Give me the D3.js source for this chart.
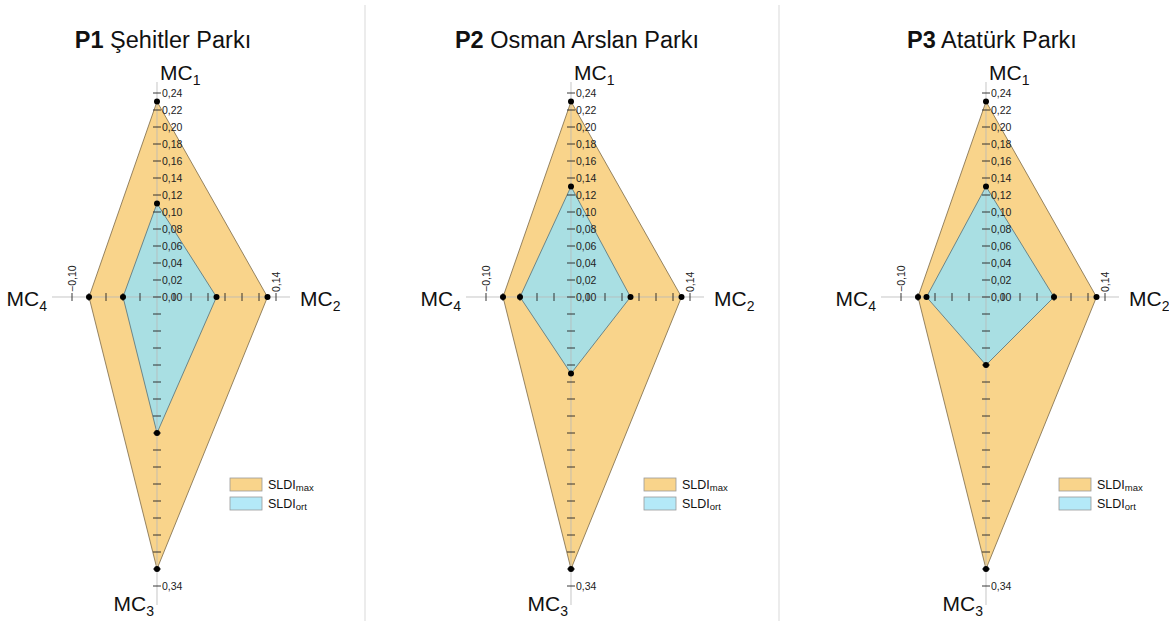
<!DOCTYPE html>
<html>
<head>
<meta charset="utf-8">
<script src="https://cdn.jsdelivr.net/npm/d3@7"></script>
<style>
  body { margin: 0; background: #fff; }
  svg { font-family: "Liberation Sans", Arial, sans-serif; }
</style>
</head>
<body>
<svg id="chart" width="1169" height="621"></svg>
<script>
const parkCodes = ['P1', 'P2', 'P3'];
const parkNames = ['Şehitler Parkı', 'Osman Arslan Parkı', 'Atatürk Parkı'];
const criteria = ['1', '2', '3', '4'];
// values per criterion MC1..MC4
const sldiMax = [
  [0.23, 0.13, 0.32, 0.08],
  [0.23, 0.13, 0.32, 0.08],
  [0.23, 0.13, 0.32, 0.08]
];
const sldiOrt = [
  [0.11, 0.07, 0.16, 0.04],
  [0.13, 0.07, 0.09, 0.06],
  [0.13, 0.08, 0.08, 0.07]
];
const upTicks = [0, 0.02, 0.04, 0.06, 0.08, 0.10, 0.12, 0.14, 0.16, 0.18, 0.20, 0.22, 0.24];
const downTicks = [0.02, 0.04, 0.06, 0.08, 0.10, 0.12, 0.14, 0.16, 0.18, 0.20, 0.22, 0.24, 0.26, 0.28, 0.30, 0.32, 0.34];
const rightTicks = [0.02, 0.04, 0.06, 0.08, 0.10, 0.12, 0.14];
const leftTicks = [0.02, 0.04, 0.06, 0.08, 0.10];
const endLabels = { down: 0.34, right: 0.14, left: 0.10 };
const legendNames = [['SLDI', 'max'], ['SLDI', 'ort']];

const centersX = [157, 571, 986];
const cy = 297;
const maxColor = '#f9d48b';
const ortColor = '#a9dfe3';

const svg = d3.select('#chart');
const r = d3.scaleLinear().domain([0, 0.34]).range([0, 289]);
const fmt = v => d3.format('.2f')(v).replace('.', ',');

// directions: MC1 up, MC2 right, MC3 down, MC4 left
const dirs = [[0, -1], [1, 0], [0, 1], [-1, 0]];

// separators
[365, 779].forEach(x => {
  svg.append('line')
    .attr('x1', x).attr('x2', x).attr('y1', 5).attr('y2', 621)
    .attr('stroke', '#d9d9d9').attr('stroke-width', 1);
});

parkCodes.forEach((code, p) => {
  const cx = centersX[p];
  const g = svg.append('g').attr('transform', 'translate(' + cx + ',' + cy + ')');

  const pts = vals => vals.map((v, i) => [dirs[i][0] * r(v), dirs[i][1] * r(v)]);
  const line = d3.line().curve(d3.curveLinearClosed);

  g.append('path')
    .attr('d', line(pts(sldiMax[p])))
    .attr('fill', maxColor)
    .attr('stroke', '#7a6846')
    .attr('stroke-width', 0.8);

  g.append('path')
    .attr('d', line(pts(sldiOrt[p])))
    .attr('fill', ortColor)
    .attr('stroke', '#53707a')
    .attr('stroke-width', 0.8);

  // axes
  g.append('line').attr('x1', 0).attr('x2', 0).attr('y1', -215).attr('y2', 308)
    .attr('stroke', '#b8b8b8').attr('stroke-opacity', 0.8).attr('stroke-width', 1);
  g.append('line').attr('x1', -105).attr('x2', 133).attr('y1', 0).attr('y2', 0)
    .attr('stroke', '#b8b8b8').attr('stroke-opacity', 0.8).attr('stroke-width', 1);

  // vertical ticks up
  g.selectAll('.tu').data(upTicks).enter().append('line')
    .attr('x1', -4).attr('x2', 4)
    .attr('y1', d => -r(d)).attr('y2', d => -r(d))
    .attr('stroke', '#222').attr('stroke-width', 0.9);
  g.selectAll('.tul').data(upTicks).enter().append('text')
    .attr('x', 5).attr('y', d => -r(d) + 4)
    .attr('font-size', 10.5).attr('fill', '#222')
    .text(d => fmt(d));

  g.selectAll('.td').data(downTicks).enter().append('line')
    .attr('x1', -4).attr('x2', 4)
    .attr('y1', d => r(d)).attr('y2', d => r(d))
    .attr('stroke', '#222').attr('stroke-width', 0.9);
  g.append('text')
    .attr('x', 5).attr('y', r(endLabels.down) + 4)
    .attr('font-size', 10.5).attr('fill', '#222')
    .text(fmt(endLabels.down));

  g.selectAll('.tr').data(rightTicks).enter().append('line')
    .attr('y1', -4).attr('y2', 4)
    .attr('x1', d => r(d)).attr('x2', d => r(d))
    .attr('stroke', '#222').attr('stroke-width', 0.9);
  g.selectAll('.tl').data(leftTicks).enter().append('line')
    .attr('y1', -4).attr('y2', 4)
    .attr('x1', d => -r(d)).attr('x2', d => -r(d))
    .attr('stroke', '#222').attr('stroke-width', 0.9);

  g.append('text')
    .attr('transform', 'translate(' + (r(endLabels.right) + 4) + ',-5) rotate(-90)')
    .attr('font-size', 10.5).attr('fill', '#222')
    .text(fmt(endLabels.right));
  g.append('text')
    .attr('transform', 'translate(' + (-r(endLabels.left) + 4) + ',-5) rotate(-90)')
    .attr('font-size', 10.5).attr('fill', '#222')
    .text('\u2212' + fmt(endLabels.left));

  // dots
  [sldiMax[p], sldiOrt[p]].forEach(vals => {
    g.selectAll(null).data(pts(vals)).enter().append('circle')
      .attr('cx', d => d[0]).attr('cy', d => d[1]).attr('r', 3)
      .attr('fill', '#000');
  });

  // axis labels
  const mcPos = [
    { x: 3, y: -217, anchor: 'start' },
    { x: 143, y: 9, anchor: 'start' },
    { x: -3, y: 314, anchor: 'end' },
    { x: -110, y: 9, anchor: 'end' }
  ];
  criteria.forEach((c, i) => {
    const t = g.append('text')
      .attr('x', mcPos[i].x).attr('y', mcPos[i].y)
      .attr('text-anchor', mcPos[i].anchor)
      .attr('font-size', 21).attr('fill', '#111');
    t.append('tspan').text('MC');
    t.append('tspan').attr('font-size', 14).attr('dy', 5).text(c);
  });

  // title
  const title = svg.append('text')
    .attr('x', cx + 6).attr('y', 48)
    .attr('text-anchor', 'middle')
    .attr('font-size', 23.5).attr('fill', '#111');
  title.append('tspan').attr('font-weight', 'bold').text(code);
  title.append('tspan').text(' ' + parkNames[p]);

  // legend
  const lg = svg.append('g').attr('transform', 'translate(' + (cx + 73) + ',478)');
  [maxColor, '#b4e9f8'].forEach((col, i) => {
    lg.append('rect')
      .attr('x', 0).attr('y', i * 19).attr('width', 32).attr('height', 13)
      .attr('fill', col).attr('stroke', '#999').attr('stroke-width', 0.8);
    const t = lg.append('text')
      .attr('x', 38).attr('y', i * 19 + 11)
      .attr('font-size', 12.5).attr('fill', '#111');
    t.append('tspan').text(legendNames[i][0]);
    t.append('tspan').attr('font-size', 9.5).attr('dy', 2).text(legendNames[i][1]);
  });
});
</script>
</body>
</html>
